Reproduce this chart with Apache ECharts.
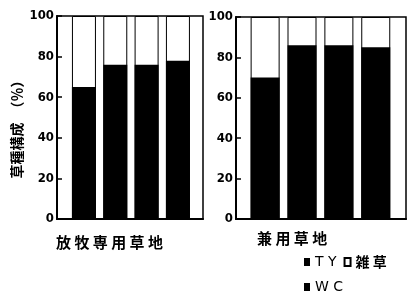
<!DOCTYPE html>
<html>
<head>
<meta charset="utf-8">
<script src="https://cdn.jsdelivr.net/npm/echarts@6/dist/echarts.min.js"></script>
<style>
html,body{margin:0;padding:0;background:#fff;}
#chart{width:415px;height:301px;}
</style>
</head>
<body>
<div id="chart"></div>
<script>
// ---- data ----
var groupNames = ['放牧専用草地', '兼用草地'];
var barSlots = [1, 2, 3, 4];
var tyLeft = [65, 76, 76, 78];
var weedLeft = [35, 24, 24, 22];
var tyRight = [70, 86, 86, 85];
var weedRight = [30, 14, 14, 15];
var wcLeft = [];
var wcRight = [];
var yTicks = [0, 20, 40, 60, 80, 100];
var yTitle = '草種構成　（％）';
var seriesNames = ['TY', 'WC', '雑草'];

function pairs(vals) { return vals.map(function (v, i) { return [barSlots[i], v]; }); }
// weeds sit on top of TY: bar drawn from 0 to (TY + weeds), black TY bar drawn over it
function tops(base, add) { return base.map(function (v, i) { return [barSlots[i], v + add[i]]; }); }
function spaced(s) { return s.split('').join(' '); }

var numFont = "'Liberation Sans Narrow', 'DejaVu Sans Condensed', sans-serif";
var cjkFont = "'Noto Sans CJK JP', sans-serif";

var chart = echarts.init(document.getElementById('chart'), null, { renderer: 'canvas' });

function yAxisDef(gi) {
  return {
    gridIndex: gi, type: 'value', min: yTicks[0], max: yTicks[yTicks.length - 1], interval: 20,
    axisLine: { show: true, lineStyle: { color: '#000', width: 2 } },
    axisTick: { show: true, inside: true, length: 5, lineStyle: { color: '#000', width: 1.5 } },
    axisLabel: { show: true, margin: 3, color: '#000', fontSize: 13, fontWeight: 'bold', fontFamily: numFont },
    splitLine: { show: false }
  };
}
function xAxisDef(gi, min, max) {
  return {
    gridIndex: gi, type: 'value', min: min, max: max,
    axisLine: { show: true, onZero: false, lineStyle: { color: '#000', width: 2 } },
    axisTick: { show: false }, axisLabel: { show: false }, splitLine: { show: false }
  };
}
var blackStyle = { color: '#000' };
var whiteStyle = { color: '#fff', borderColor: '#000', borderWidth: 1 };

var option = {
  backgroundColor: '#fff',
  animation: false,
  grid: [
    { left: 57, top: 16, width: 146, height: 203, show: true, borderColor: '#000', borderWidth: 1.5, backgroundColor: 'transparent' },
    { left: 236, top: 17, width: 170, height: 202, show: true, borderColor: '#000', borderWidth: 1.5, backgroundColor: 'transparent' }
  ],
  xAxis: [xAxisDef(0, 0.14, 4.8), xAxisDef(1, 0.21, 4.82)],
  yAxis: [yAxisDef(0), yAxisDef(1)],
  legend: [
    {
      data: [seriesNames[0], seriesNames[2]], left: 304, top: 255, padding: 0, orient: 'horizontal',
      icon: 'rect', itemWidth: 6, itemHeight: 8, itemGap: 7, selectedMode: false,
      formatter: function (n) { return /[A-Za-z]/.test(n) ? '{l|' + spaced(n) + '}' : '{k|' + spaced(n) + '}'; },
      textStyle: { color: '#000', rich: {
        l: { fontSize: 14, fontFamily: "'DejaVu Sans', sans-serif", color: '#000' },
        k: { fontSize: 14, fontFamily: cjkFont, fontWeight: 'bold', color: '#000' }
      } }
    },
    {
      data: [seriesNames[1]], left: 304, top: 280, padding: 0, orient: 'horizontal',
      icon: 'rect', itemWidth: 6, itemHeight: 8, selectedMode: false,
      formatter: function (n) { return '{l|' + spaced(n) + '}'; },
      textStyle: { color: '#000', rich: {
        l: { fontSize: 14, fontFamily: "'DejaVu Sans', sans-serif", color: '#000' }
      } }
    }
  ],
  graphic: [
    { type: 'text', x: 17, y: 126, rotation: Math.PI / 2,
      style: { text: yTitle, textAlign: 'center', textVerticalAlign: 'middle', fill: '#000',
        font: 'bold 14px ' + cjkFont } },
    { type: 'text', x: 56, y: 242,
      style: { text: spaced(groupNames[0]), textAlign: 'left', textVerticalAlign: 'middle', fill: '#000',
        font: 'bold 15px ' + cjkFont } },
    { type: 'text', x: 257, y: 238,
      style: { text: spaced(groupNames[1]), textAlign: 'left', textVerticalAlign: 'middle', fill: '#000',
        font: 'bold 15px ' + cjkFont } }
  ],
  series: [
    { name: seriesNames[2], type: 'bar', xAxisIndex: 0, yAxisIndex: 0, barWidth: 24, barGap: '-100%', data: tops(tyLeft, weedLeft), itemStyle: whiteStyle },
    { name: seriesNames[0], type: 'bar', xAxisIndex: 0, yAxisIndex: 0, barWidth: 24, barGap: '-100%', data: pairs(tyLeft), itemStyle: blackStyle },
    { name: seriesNames[1], type: 'bar', xAxisIndex: 0, yAxisIndex: 0, barWidth: 24, barGap: '-100%', data: pairs(wcLeft), itemStyle: blackStyle },
    { name: seriesNames[2], type: 'bar', xAxisIndex: 1, yAxisIndex: 1, barWidth: 29, barGap: '-100%', data: tops(tyRight, weedRight), itemStyle: whiteStyle },
    { name: seriesNames[0], type: 'bar', xAxisIndex: 1, yAxisIndex: 1, barWidth: 29, barGap: '-100%', data: pairs(tyRight), itemStyle: blackStyle },
    { name: seriesNames[1], type: 'bar', xAxisIndex: 1, yAxisIndex: 1, barWidth: 29, barGap: '-100%', data: pairs(wcRight), itemStyle: blackStyle }
  ]
};
chart.setOption(option);
</script>
</body>
</html>
